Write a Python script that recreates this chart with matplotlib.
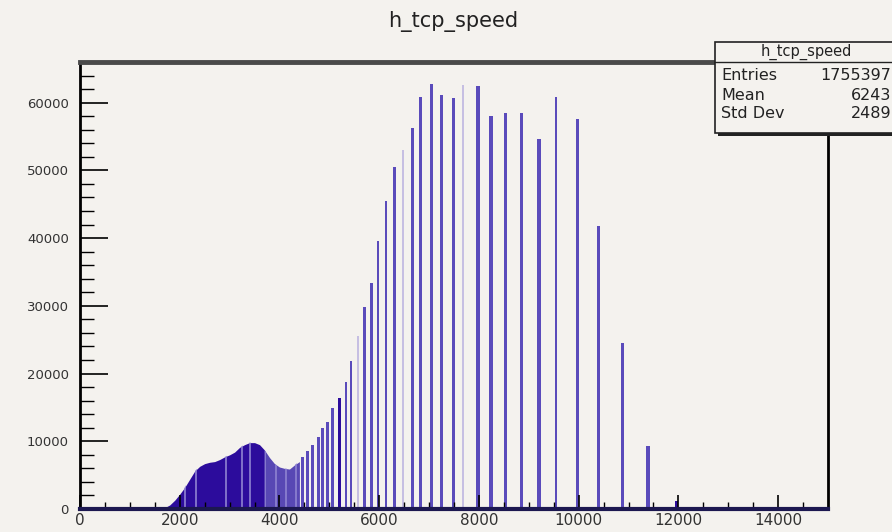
import numpy as np
import matplotlib.pyplot as plt
from matplotlib.patches import Rectangle

# continuous part of the distribution (speed, entries)
dense_x = [1600, 1700, 1800, 1900, 2000, 2100, 2200, 2300, 2400, 2500, 2600, 2700,
           2800, 2900, 3000, 3100, 3200, 3300, 3400, 3500, 3600, 3700, 3800, 3900,
           4000, 4100, 4200, 4300, 4400]
dense_y = [0, 200, 600, 1300, 2200, 3200, 4400, 5600, 6300, 6700, 6900, 7000,
           7300, 7700, 8000, 8400, 9100, 9500, 9800, 9800, 9500, 8700, 7600, 6700,
           6200, 6000, 5900, 6500, 7000]

# discrete spikes above ~4400
spike_x = [4460, 4560, 4660, 4780, 4860, 4960, 5066, 5200, 5334, 5434, 5580, 5706,
           5840, 5974, 6134, 6300, 6480, 6666, 6834, 7046, 7254, 7486, 7686, 7980,
           8246, 8540, 8860, 9206, 9540, 9974, 10400, 10886, 11386, 11966]
spike_y = [7700, 8500, 9500, 10700, 12000, 12900, 14900, 16400, 18800, 21900, 25500, 29800,
           33400, 39500, 45500, 50500, 53000, 56200, 60800, 62800, 61200, 60700, 62600, 62400,
           58000, 58500, 58500, 54600, 60800, 57600, 41800, 24500, 9300, 1200]

stats_labels = ['Entries', 'Mean', 'Std Dev']
stats_values = ['1755397', '6243', '2489']

# rendering shade of each spike (aliasing in the original screenshot)
shade = 'mmmmmmmdmmlmmmmmlmmmmmlmmmmmmmmmmd'
thick = [7046, 7486, 7980, 8246, 9206, 9974, 11386, 5200]
thin = [7686, 9540, 5580, 6480]
colors = {'m': '#5a4bbb', 'd': '#2c0c9c', 'l': '#c6bfe2'}
# light aliasing stripes inside the filled region
stripes = [2100, 2330, 2930, 3240, 3400, 3700, 3930, 4130, 4330]

bg = '#f4f2ee'
plt.rcParams['font.family'] = ['DejaVu Sans']

fig = plt.figure(figsize=(8.92, 5.32), dpi=100, facecolor=bg)
ax = fig.add_axes([80/892, 1 - 509/532, (828 - 80)/892, (509 - 62)/532])
ax.set_facecolor(bg)

dx = np.array(dense_x)
dy = np.array(dense_y)
f1 = ax.fill_between(dx, 0, dy, where=dx <= 3750, color='#2c0c9c', lw=0, interpolate=True)
f2 = ax.fill_between(dx, 0, dy, where=dx >= 3700, color='#5848b4', lw=0, interpolate=True)
for k, s in enumerate(stripes):
    ln = ax.vlines(s, 0, 66000, color='#8f84d2', lw=1.2)
    ln.set_clip_path(f1.get_paths()[0], f1.get_transform()) if s < 3700 else \
        ln.set_clip_path(f2.get_paths()[0], f2.get_transform())

widths = [70 if x in thick else (35 if x in thin else 55) for x in spike_x]
ax.bar(spike_x, spike_y, width=widths, color=[colors[s] for s in shade], lw=0)

ax.set_xlim(0, 15000)
ax.set_ylim(0, 66000)
ax.set_xticks(np.arange(0, 15000, 2000))
ax.set_xticks(np.arange(0, 15000, 500), minor=True)
ax.set_yticks(np.arange(0, 66000, 10000))
ax.set_yticks(np.arange(0, 66000, 2000), minor=True)
ax.tick_params(axis='both', which='both', direction='in', colors='black')
ax.tick_params(axis='x', which='major', length=10, width=1.2)
ax.tick_params(axis='x', which='minor', length=5, width=1)
ax.tick_params(axis='y', which='major', length=20, width=1.2)
ax.tick_params(axis='y', which='minor', length=10, width=1)
ax.tick_params(axis='y', labelsize=9.5, labelcolor='#333333', pad=8)
ax.tick_params(axis='x', labelsize=11, labelcolor='#333333', pad=3)

ax.spines['top'].set_color('#4a4a4a')
ax.spines['top'].set_linewidth(3.5)
ax.spines['left'].set_linewidth(2)
ax.spines['right'].set_linewidth(2)
ax.spines['bottom'].set_color('#1c1850')
ax.spines['bottom'].set_linewidth(3)

fig.text(453/892, 1 - 22/532, 'h_tcp_speed', ha='center', va='center',
         fontsize=15, color='#222222')

# stats box (runs off the right edge, as in the screenshot)
bx0, by0, by1 = 715/892, 1 - 133/532, 1 - 42/532
fig.patches.append(Rectangle((bx0 + 0.003, by0 - 0.006), 0.3, by1 - by0,
                             transform=fig.transFigure, facecolor='#222222',
                             edgecolor='none', zorder=5))
fig.patches.append(Rectangle((bx0, by0), 0.3, by1 - by0, transform=fig.transFigure,
                             facecolor=bg, edgecolor='#222222', lw=1.2, zorder=6))
sep = 1 - 62/532
fig.add_artist(plt.Line2D([bx0, 1.0], [sep, sep], transform=fig.transFigure,
                          color='#222222', lw=1, zorder=7))
fig.text(806/892, 1 - 52/532, 'h_tcp_speed', ha='center', va='center',
         fontsize=10.5, color='#222222', zorder=8)
for i, (lab, val) in enumerate(zip(stats_labels, stats_values)):
    yy = 1 - (76 + 19 * i)/532
    fig.text(721/892, yy, lab, ha='left', va='center', fontsize=11.5,
             color='#222222', zorder=8)
    fig.text(891/892, yy, val, ha='right', va='center', fontsize=11.5,
             color='#222222', zorder=8)

fig.savefig('out.png', dpi=100, facecolor=bg)
